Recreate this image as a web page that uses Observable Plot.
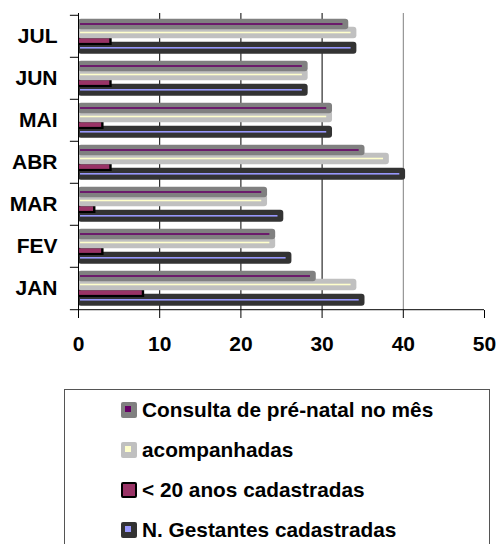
<!DOCTYPE html>
<html><head><meta charset="utf-8">
<script src="https://cdn.jsdelivr.net/npm/d3@7"></script>
<script src="https://cdn.jsdelivr.net/npm/@observablehq/plot@0.6"></script>
<style>
html,body{margin:0;padding:0;overflow:hidden;background:#fff;}
body{width:500px;height:544px;position:relative;font-family:"Liberation Sans",Arial,Helvetica,sans-serif;}
#chart{position:absolute;left:0;top:0;}
#legend{position:absolute;left:64px;top:389px;width:426px;height:200px;border:1px solid #555;box-sizing:border-box;}
.row{position:absolute;left:0;height:20px;width:100%;}
.sw{position:absolute;left:56px;top:2px;width:16px;height:16px;border-radius:2px;box-sizing:border-box;}
.sw i{position:absolute;left:4px;top:4px;width:6px;height:6px;}
.lab{position:absolute;left:77px;top:0;line-height:20px;font-size:20.8px;font-weight:bold;white-space:nowrap;color:#000;}
</style></head><body>
<div id="chart"></div><div id="legend"></div>
<script>
// ---- data ----
const months = ["JAN","FEV","MAR","ABR","MAI","JUN","JUL"];
const consulta = [29,24,23,35,31,28,33];
const acompanhadas = [34,24,23,38,31,28,34];
const menor20 = [8,3,2,4,3,4,4];
const gestantes = [35,26,25,40,31,28,34];
const seriesNames = ["Consulta de pré-natal no mês","acompanhadas","< 20 anos cadastradas","N. Gestantes cadastradas"];
const xTicks = [0,10,20,30,40,50];
const gridDark = [10,20,30];
const gridLight = [40];

// ---- styles ----
const outerColors = ["#808080","#c0c0c0","#000000","#333333"];
const innerColors = ["#660066","#ffffcc","#993366","#9999ff"];

const W=500,H=360,mt=13,mb=50,ml=78,mr=16;
const bw=(H-mt-mb)/months.length;
const rows = vals => months.map((m,i)=>({month:m, value:vals[i]}));
const lay = (o,h) => ({insetTop:bw/2+o-h/2, insetBottom:bw/2-o-h/2});
function bar(vals,o,h,fill,extra={}){
  return Plot.barX(rows(vals),{y:"month",x1:0,x2:"value",fill,...lay(o,h),...extra});
}

const chart = Plot.plot({
  width:W,height:H,marginTop:mt,marginBottom:mb,marginLeft:ml,marginRight:mr,
  style:{fontFamily:'"Liberation Sans",Arial,Helvetica,sans-serif',fontSize:"21px",fontWeight:"bold",color:"#000",background:"#fff"},
  x:{domain:[0,50]},
  y:{type:"band",domain:months.slice().reverse(),padding:0},
  marks:[
    Plot.ruleX(gridDark,{stroke:"#000"}),
    Plot.ruleX(gridLight,{stroke:"#808080"}),
    bar(gestantes,11.8,12.5,outerColors[3],{rx:3,insetRight:-2.3}),
    bar(gestantes,11.8,2,innerColors[3],{insetLeft:2,insetRight:3.5}),
    bar(menor20,5,8.5,outerColors[2],{insetRight:-1.2}),
    bar(menor20,4.6,5,innerColors[2],{insetLeft:0.5,insetRight:1.2}),
    bar(acompanhadas,-3.5,12,outerColors[1],{rx:3,insetRight:-2.3}),
    bar(acompanhadas,-3.5,2,innerColors[1],{insetLeft:2,insetRight:3.5}),
    bar(consulta,-12,11,outerColors[0],{rx:3,insetRight:-2.3}),
    bar(consulta,-12,2,innerColors[0],{insetLeft:2,insetRight:3.5}),
    Plot.ruleX([0],{stroke:"#000"}),
    Plot.ruleY(months,{y:d=>d,x1:-1,x2:0,dy:-bw/2,stroke:"#000"}),
    Plot.ruleY([months[0]],{y:d=>d,x1:-1,x2:50,dy:bw/2,stroke:"#000"}),
    Plot.axisX(xTicks,{tickSize:8,tickPadding:18,label:null}),
    Plot.axisY({tickSize:0,tickPadding:21,label:null})
  ]
});
document.getElementById("chart").appendChild(chart);

// ---- legend ----
const leg = document.getElementById("legend");
seriesNames.forEach((name,i)=>{
  const row=document.createElement("div");
  row.className="row";
  row.style.top=(10+40*i)+"px";
  const sw=document.createElement("div");
  sw.className="sw";
  if(i===2){
    sw.style.background=innerColors[i];
    sw.style.border="2px solid #000";
  } else {
    sw.style.background=outerColors[i];
    const inner=document.createElement("i");
    inner.style.background=innerColors[i];
    sw.appendChild(inner);
  }
  const lab=document.createElement("div");
  lab.className="lab";
  lab.textContent=name;
  row.appendChild(sw);row.appendChild(lab);
  leg.appendChild(row);
});
</script>
</body></html>
